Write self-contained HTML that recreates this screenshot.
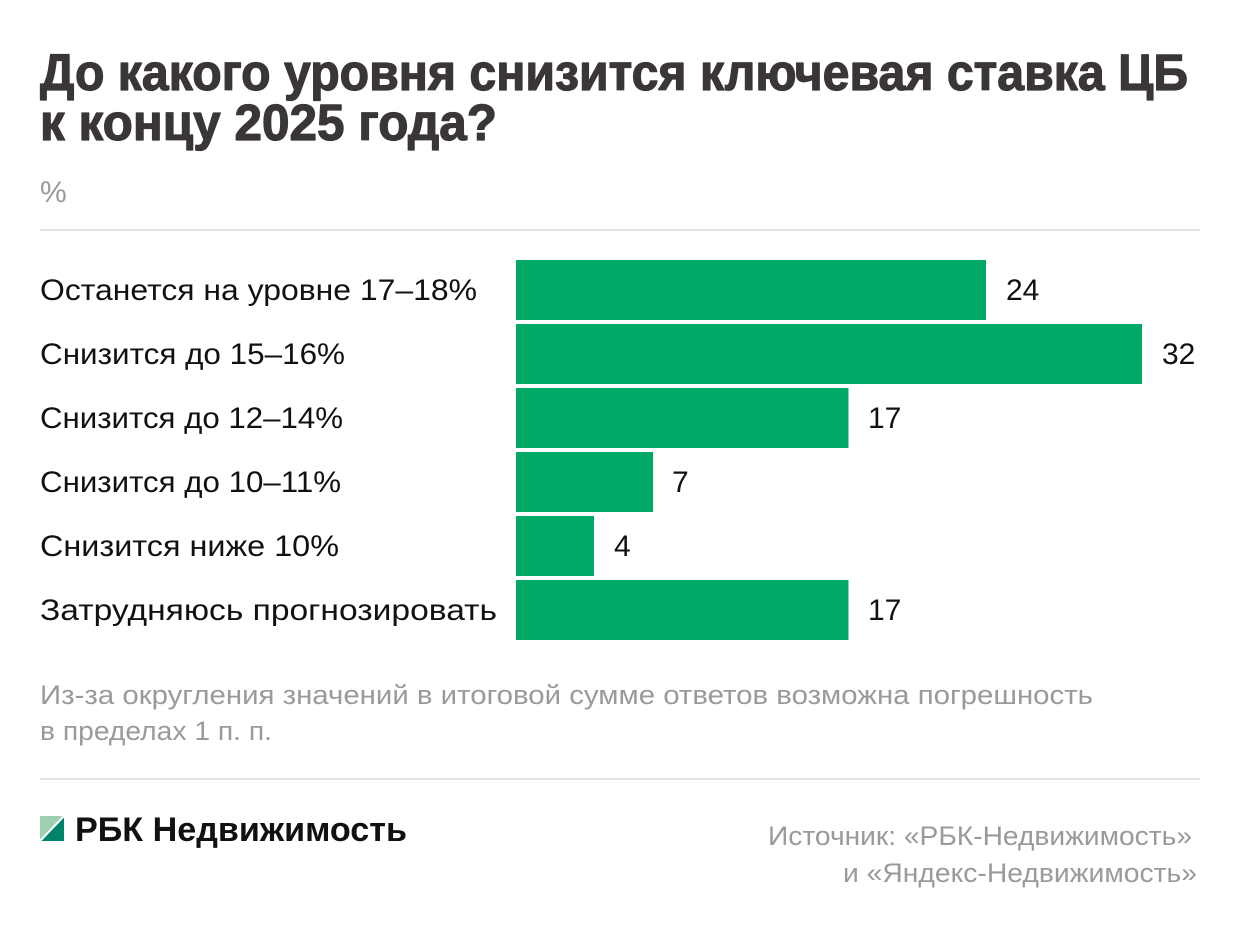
<!DOCTYPE html>
<html>
<head>
<meta charset="utf-8">
<style>
  html, body { margin: 0; padding: 0; background: #ffffff; }
  svg { display: block; }
  text { font-family: "Liberation Sans", "DejaVu Sans", sans-serif; }
</style>
</head>
<body>
<svg width="1240" height="928" viewBox="0 0 1240 928" xmlns="http://www.w3.org/2000/svg">
  <rect x="0" y="0" width="1240" height="928" fill="#ffffff"/>

  <!-- Title -->
  <g font-size="51" font-weight="bold" fill="#3a3637" stroke="#3a3637" stroke-width="1.2" stroke-linejoin="round">
    <text x="40" y="90" textLength="1148" lengthAdjust="spacingAndGlyphs">До какого уровня снизится ключевая ставка ЦБ</text>
    <text x="40" y="140" textLength="457" lengthAdjust="spacingAndGlyphs">к концу 2025 года?</text>
  </g>

  <!-- unit -->
  <text x="40" y="202" font-size="30" fill="#9a9a9a">%</text>

  <!-- top divider -->
  <rect x="40" y="229" width="1160" height="2" fill="#e3e3e3"/>

  <!-- Bars -->
  <g fill="#00a866">
    <rect x="516" y="260" width="470" height="60"/>
    <rect x="516" y="324" width="626" height="60"/>
    <rect x="516" y="388" width="332.5" height="60"/>
    <rect x="516" y="452" width="137" height="60"/>
    <rect x="516" y="516" width="78" height="60"/>
    <rect x="516" y="580" width="332.5" height="60"/>
  </g>

  <!-- Labels -->
  <g font-size="30" fill="#111111">
    <text x="40" y="300" textLength="437" lengthAdjust="spacingAndGlyphs">Останется на уровне 17–18%</text>
    <text x="40" y="364" textLength="305" lengthAdjust="spacingAndGlyphs">Снизится до 15–16%</text>
    <text x="40" y="428" textLength="303" lengthAdjust="spacingAndGlyphs">Снизится до 12–14%</text>
    <text x="40" y="492" textLength="301" lengthAdjust="spacingAndGlyphs">Снизится до 10–11%</text>
    <text x="40" y="556" textLength="299" lengthAdjust="spacingAndGlyphs">Снизится ниже 10%</text>
    <text x="40" y="620" textLength="457" lengthAdjust="spacingAndGlyphs">Затрудняюсь прогнозировать</text>
  </g>

  <!-- Values -->
  <g font-size="30" fill="#111111">
    <text x="1006" y="300">24</text>
    <text x="1162" y="364">32</text>
    <text x="868" y="428">17</text>
    <text x="672" y="492">7</text>
    <text x="614" y="556">4</text>
    <text x="868" y="620">17</text>
  </g>

  <!-- Footnote -->
  <g font-size="27" fill="#9a9a9a">
    <text x="40" y="704" textLength="1053" lengthAdjust="spacingAndGlyphs">Из-за округления значений в итоговой сумме ответов возможна погрешность</text>
    <text x="40" y="740" textLength="232" lengthAdjust="spacingAndGlyphs">в пределах 1 п. п.</text>
  </g>

  <!-- bottom divider -->
  <rect x="40" y="778" width="1160" height="2" fill="#e3e3e3"/>

  <!-- Logo -->
  <polygon points="40,816 64,816 40,841" fill="#9dd0b0"/>
  <polygon points="64,816 64,841 40,841" fill="#00836b"/>
  <line x1="39" y1="842" x2="65" y2="815" stroke="#ffffff" stroke-width="2"/>
  <text x="75" y="841" font-size="34" font-weight="bold" fill="#111111" textLength="332" lengthAdjust="spacingAndGlyphs">РБК Недвижимость</text>

  <!-- Source -->
  <g font-size="27" fill="#9a9a9a">
    <text x="768" y="845" textLength="424" lengthAdjust="spacingAndGlyphs">Источник: «РБК-Недвижимость»</text>
    <text x="843" y="882" textLength="354" lengthAdjust="spacingAndGlyphs">и «Яндекс-Недвижимость»</text>
  </g>
</svg>
</body>
</html>
